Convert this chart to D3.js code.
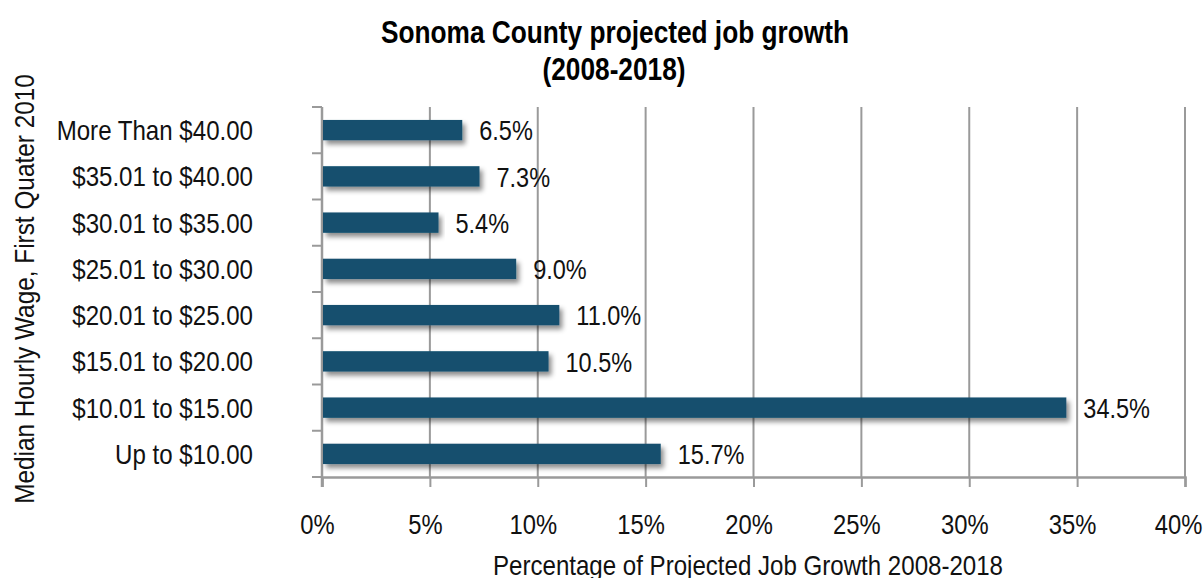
<!DOCTYPE html>
<html>
<head>
<meta charset="utf-8">
<script src="https://cdn.jsdelivr.net/npm/d3@7"></script>
<style>
  body { margin: 0; background: #fff; }
  svg text { font-family: "Liberation Sans", Arial, sans-serif; }
</style>
</head>
<body>
<div id="chart"></div>
<script>
// chart data
var categories = ["More Than $40.00", "$35.01 to $40.00", "$30.01 to $35.00", "$25.01 to $30.00",
  "$20.01 to $25.00", "$15.01 to $20.00", "$10.01 to $15.00", "Up to $10.00"];
var growth = [6.5, 7.3, 5.4, 9.0, 11.0, 10.5, 34.5, 15.7];
var xTicks = [0, 5, 10, 15, 20, 25, 30, 35, 40];

var svgWidth = 1203;
var svgHeight = 578;
var margin = { top: 107, right: 18, bottom: 101, left: 322 };
var width = svgWidth - margin.left - margin.right;
var height = svgHeight - margin.top - margin.bottom;

// squeeze text horizontally to look like a condensed face
function condense(sel, k) {
  sel.each(function() {
    var w = this.getComputedTextLength();
    d3.select(this).attr("textLength", w * k).attr("lengthAdjust", "spacingAndGlyphs");
  });
}

var svg = d3.select("#chart")
  .append("svg")
  .attr("width", svgWidth)
  .attr("height", svgHeight);

// drop shadow for the bars
var defs = svg.append("defs");
var filter = defs.append("filter")
  .attr("id", "shadow")
  .attr("x", "-5%").attr("y", "-50%")
  .attr("width", "110%").attr("height", "220%");
filter.append("feDropShadow")
  .attr("dx", 3).attr("dy", 4)
  .attr("stdDeviation", 2.5)
  .attr("flood-color", "#000")
  .attr("flood-opacity", 0.45);

var chart = svg.append("g")
  .attr("transform", `translate(${margin.left}, ${margin.top})`);

var x = d3.scaleLinear().domain([0, 40]).range([0, width]);
var y = d3.scaleBand().domain(categories).range([0, height]).paddingInner(0.56).paddingOuter(0.28);

// vertical gridlines
chart.selectAll(".grid")
  .data(xTicks.slice(1))
  .enter()
  .append("line")
  .attr("x1", d => x(d)).attr("x2", d => x(d))
  .attr("y1", 0).attr("y2", height)
  .attr("stroke", "#9a9a9a")
  .attr("stroke-width", 2);

// bottom axis
var bottomAxis = d3.axisBottom(x)
  .tickValues(xTicks)
  .tickSize(10)
  .tickFormat(d => d + "%");
var gx = chart.append("g")
  .attr("transform", `translate(0, ${height})`)
  .call(bottomAxis)
  .attr("font-family", null)
  .attr("font-size", null);
gx.select(".domain").attr("stroke", "#9a9a9a").attr("stroke-width", 2.5);
gx.selectAll(".tick line").attr("stroke", "#9a9a9a").attr("stroke-width", 2);
gx.selectAll(".tick text")
  .attr("y", 57)
  .attr("x", d => d === 40 ? -7 : -5)
  .attr("dy", 0)
  .attr("font-size", 28)
  .attr("fill", "#111")
  .call(condense, 0.85);

// left axis with ticks between categories
var bounds = d3.range(categories.length + 1).map(i => i * height / categories.length);
chart.append("g").selectAll("line")
  .data(bounds)
  .enter()
  .append("line")
  .attr("x1", -10).attr("x2", 0)
  .attr("y1", d => d).attr("y2", d => d)
  .attr("stroke", "#9a9a9a")
  .attr("stroke-width", 2);
chart.append("line")
  .attr("x1", 0).attr("x2", 0)
  .attr("y1", 0).attr("y2", height + 10)
  .attr("stroke", "#9a9a9a")
  .attr("stroke-width", 2.5);

// category labels
chart.selectAll(".cat")
  .data(categories)
  .enter()
  .append("text")
  .attr("x", -69)
  .attr("y", d => y(d) + y.bandwidth() / 2)
  .attr("dy", "0.36em")
  .attr("text-anchor", "end")
  .attr("font-size", 28)
  .attr("fill", "#111")
  .text(d => d)
  .call(condense, 0.86);

// bars
chart.selectAll(".bar")
  .data(growth)
  .enter()
  .append("rect")
  .attr("x", x(0) + 1)
  .attr("y", (d, i) => y(categories[i]))
  .attr("width", d => x(d) - x(0) - 1)
  .attr("height", y.bandwidth())
  .attr("fill", "#154f6e")
  .attr("filter", "url(#shadow)");

// value labels
chart.selectAll(".val")
  .data(growth)
  .enter()
  .append("text")
  .attr("x", d => x(d) + 17)
  .attr("y", (d, i) => y(categories[i]) + y.bandwidth() / 2)
  .attr("dy", "0.37em")
  .attr("font-size", 28)
  .attr("fill", "#111")
  .text(d => d.toFixed(1) + "%")
  .call(condense, 0.84);

// title
svg.append("text")
  .attr("x", 615).attr("y", 43)
  .attr("text-anchor", "middle")
  .attr("font-size", 32)
  .attr("font-weight", "bold")
  .attr("fill", "#000")
  .text("Sonoma County projected job growth")
  .call(condense, 0.82);
svg.append("text")
  .attr("x", 614).attr("y", 80)
  .attr("text-anchor", "middle")
  .attr("font-size", 32)
  .attr("font-weight", "bold")
  .attr("fill", "#000")
  .text("(2008-2018)")
  .call(condense, 0.82);

// axis titles
svg.append("text")
  .attr("transform", "translate(34, 289) rotate(-90)")
  .attr("text-anchor", "middle")
  .attr("font-size", 28)
  .attr("fill", "#111")
  .text("Median Hourly Wage, First Quater 2010")
  .call(condense, 0.87);

svg.append("text")
  .attr("x", 748).attr("y", 575)
  .attr("text-anchor", "middle")
  .attr("font-size", 28)
  .attr("fill", "#111")
  .text("Percentage of Projected Job Growth 2008-2018")
  .call(condense, 0.86);
</script>
</body>
</html>
